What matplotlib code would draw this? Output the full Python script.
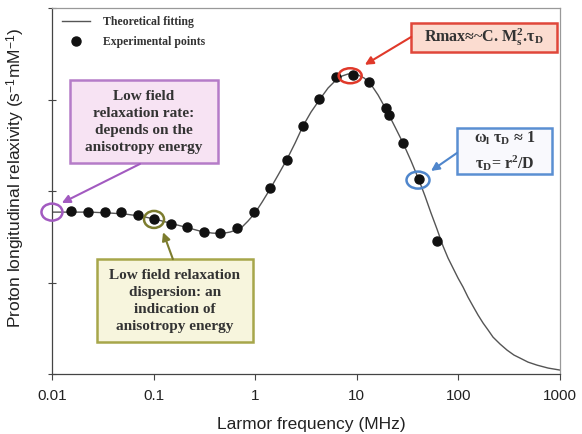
import numpy as np
import matplotlib.pyplot as plt
from matplotlib.patches import Ellipse, Rectangle
from matplotlib.transforms import ScaledTranslation

plt.rcParams['mathtext.fontset'] = 'custom'
plt.rcParams['mathtext.rm'] = 'Liberation Serif:bold'
plt.rcParams['mathtext.it'] = 'Liberation Serif:bold'
plt.rcParams['mathtext.bf'] = 'Liberation Serif:bold'
plt.rcParams['mathtext.sf'] = 'Liberation Sans'

#====================== DATA ==============================================

# experimental points, Larmor frequency (MHz) and relaxivity (axis units)
freq_exp = [0.0154, 0.0226, 0.0332, 0.0478, 0.0702, 0.101, 0.148, 0.213,
            0.313, 0.451, 0.662, 0.973, 1.40, 2.06, 2.95, 4.25, 6.24, 9.18,
            13.2, 19.4, 20.7, 28.5, 40.9, 61.5]
r1_exp = [1.78, 1.77, 1.77, 1.77, 1.74, 1.69, 1.64, 1.61,
          1.55, 1.54, 1.60, 1.77, 2.03, 2.34, 2.71, 3.01, 3.25, 3.27,
          3.19, 2.91, 2.83, 2.52, 2.13, 1.45]

# theoretical fitting curve
freq_fit = [0.0100, 0.0150, 0.0237, 0.0372, 0.0523, 0.0735, 0.103, 0.145,
            0.204, 0.286, 0.376, 0.471, 0.565, 0.647, 0.709, 0.849, 0.995,
            1.17, 1.40, 1.68, 2.06, 2.47, 2.95, 3.54, 4.34, 5.21, 6.24,
            7.15, 8.19, 9.18, 10.3, 11.8, 13.5, 16.2, 19.8, 23.8, 28.5,
            34.2, 40.9, 46.9, 53.7, 61.5, 70.5, 79.0, 88.5, 99.1, 111, 124,
            139, 156, 175, 196, 219, 257, 301, 352, 404, 484, 594, 763, 1000]
r1_fit = [1.770, 1.770, 1.770, 1.760, 1.749, 1.727, 1.694, 1.650,
          1.607, 1.563, 1.541, 1.536, 1.552, 1.574, 1.585, 1.672, 1.760,
          1.880, 2.022, 2.175, 2.350, 2.525, 2.710, 2.863, 3.005, 3.126, 3.213,
          3.257, 3.279, 3.279, 3.268, 3.235, 3.180, 3.049, 2.874, 2.699, 2.525,
          2.328, 2.120, 1.945, 1.760, 1.585, 1.399, 1.268, 1.158, 1.049, 0.951, 0.842,
          0.743, 0.645, 0.557, 0.481, 0.404, 0.328, 0.262, 0.208, 0.175, 0.131,
          0.098, 0.066, 0.044]

xticks = [0.01, 0.1, 1, 10, 100, 1000]
xticklabels = ['0.01', '0.1', '1', '10', '100', '1000']
yticks = [0, 1, 2, 3, 4]

#====================== PLOT ==============================================

fig = plt.figure(figsize=(5.82, 4.34), dpi=100)
ax = fig.add_axes([0.0893, 0.138, 0.873, 0.8435])

ax.plot(freq_fit, r1_fit, color='#555555', lw=1.0, label='Theoretical fitting')
ax.plot(freq_exp, r1_exp, 'o', color='#111111', ms=6.5, label='Experimental points')

ax.set_xscale('log')
ax.set_xlim(0.01, 1000)
ax.set_ylim(0, 4)
ax.set_xticks(xticks)
ax.set_xticklabels(xticklabels)
ax.set_yticks(yticks)
ax.set_yticklabels([])
ax.minorticks_off()
ax.tick_params(axis='x', direction='out', length=4, width=0.8, colors='#444444',
               labelcolor='#222222', labelsize=11, pad=7)
ax.tick_params(axis='y', direction='inout', length=6, width=0.8, colors='#444444')
for lab in ax.get_xticklabels():
    lab.set_family('Liberation Sans')

for s in ['left', 'bottom']:
    ax.spines[s].set_color('#444444')
    ax.spines[s].set_linewidth(0.9)
for s in ['top', 'right']:
    ax.spines[s].set_color('#999999')
    ax.spines[s].set_linewidth(0.9)

ax.set_xlabel('Larmor frequency (MHz)', family='Liberation Sans', fontsize=12.5, color='#222222')
ax.xaxis.set_label_coords(0.51, -0.118)
ax.set_ylabel(r'Proton longitudinal relaxivity (s$^\mathsf{-1}$mM$^\mathsf{-1}$)',
              family='Liberation Sans', fontsize=12.5, color='#222222')
ax.yaxis.set_label_coords(-0.05, 0.535)

leg = ax.legend(loc='upper left', bbox_to_anchor=(0.02, 0.978), frameon=False,
                borderpad=0, borderaxespad=0, handlelength=2.4, handletextpad=1.1,
                labelspacing=0.7, numpoints=1,
                prop={'family': 'Liberation Serif', 'weight': 'bold', 'size': 8.5})
for t in leg.get_texts():
    t.set_color('#333333')

# ellipses around selected points (size in inches, centred on data)
def ring(x, y, w, h, col):
    tr = fig.dpi_scale_trans + ScaledTranslation(x, y, ax.transData)
    e = Ellipse((0, 0), w, h, transform=tr, fill=False, edgecolor=col, lw=1.8,
                clip_on=False, zorder=5)
    ax.add_patch(e)

ring(0.01, 1.77, 0.21, 0.17, '#a25ac0')
ring(0.101, 1.69, 0.20, 0.17, '#7c7c2e')
ring(8.6, 3.26, 0.23, 0.15, '#e0392a')
ring(40.0, 2.12, 0.23, 0.17, '#4f86cc')

# annotation boxes (axes fraction: centre x, centre y, width, height)
def box(cx, cy, w, h, fc, ec, txt, size):
    ax.add_patch(Rectangle((cx - w / 2, cy - h / 2), w, h, transform=ax.transAxes,
                           facecolor=fc, edgecolor=ec, lw=1.8, zorder=4))
    ax.text(cx, cy, txt, transform=ax.transAxes, ha='center', va='center',
            family='Liberation Serif', weight='bold', fontsize=size,
            color='#333333', linespacing=1.4, zorder=6)

box(0.181, 0.690, 0.291, 0.227, '#f7e3f3', '#b57cc8',
    'Low field\nrelaxation rate:\ndepends on the\nanisotropy energy', 11)
box(0.242, 0.201, 0.307, 0.227, '#f7f5dd', '#a7a64a',
    'Low field relaxation\ndispersion: an\nindication of\nanisotropy energy', 11)
box(0.850, 0.919, 0.287, 0.079, '#fbdcd0', '#e0473a',
    r'Rmax≈~C. M$_s^2$.τ$_D$', 11.5)
box(0.891, 0.609, 0.187, 0.126, '#f9f9fd', '#5a8fd2',
    'ω$_l$ τ$_D$ ≈ 1\nτ$_D$= r$^2$/D', 11.5)

# arrows from boxes to circles
def arrow(xh, yh, fx, fy, col):
    ax.annotate('', xy=(xh, yh), xytext=(fx, fy), textcoords='axes fraction',
                arrowprops=dict(arrowstyle='-|>', color=col, lw=1.5,
                                mutation_scale=12, shrinkA=0, shrinkB=0),
                zorder=5)

arrow(0.0125, 1.87, 0.173, 0.574, '#a25ac0')
arrow(0.124, 1.55, 0.238, 0.314, '#7c7c2e')
arrow(12.0, 3.38, 0.707, 0.921, '#e0392a')
arrow(53.7, 2.22, 0.797, 0.604, '#4f86cc')

plt.savefig('out.png', dpi=100)
